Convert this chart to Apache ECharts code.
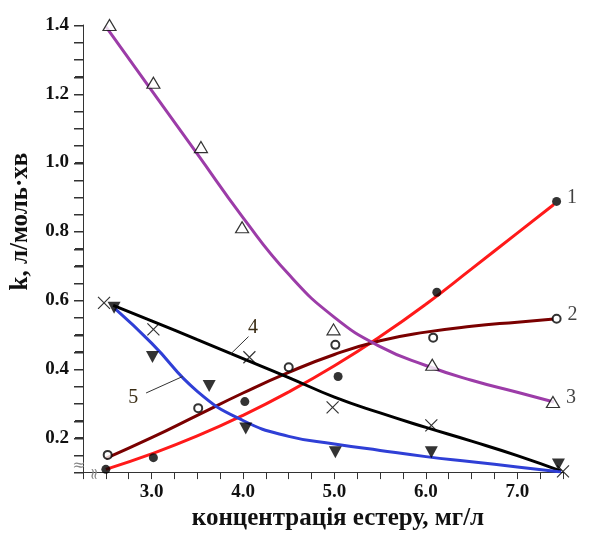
<!DOCTYPE html>
<html>
<head>
<meta charset="utf-8">
<script src="https://cdn.jsdelivr.net/npm/echarts@6/dist/echarts.min.js"></script>
<style>
  html, body { margin: 0; background: #fff; }
  #chart { width: 590px; height: 536px; }
</style>
</head>
<body>
<div id="chart"></div>
<script>
/* measured points (x: concentration, y: k) */
const x1 = [2.5, 3.02, 4.02, 5.04, 6.12, 7.43];
const y1 = [0.108, 0.142, 0.305, 0.378, 0.623, 0.887];
const x2 = [2.52, 3.51, 4.5, 5.01, 6.08, 7.43];
const y2 = [0.15, 0.286, 0.405, 0.47, 0.491, 0.546];
const x3 = [2.54, 3.02, 3.54, 3.99, 4.99, 6.07, 7.39];
const y3 = [1.4, 1.232, 1.045, 0.812, 0.515, 0.412, 0.304];
const x4 = [2.48, 3.02, 4.07, 4.98, 6.06, 7.5];
const y4 = [0.592, 0.515, 0.434, 0.288, 0.236, 0.102];
const x5 = [2.59, 3.01, 3.63, 4.03, 5.01, 6.06, 7.45];
const y5 = [0.578, 0.435, 0.35, 0.227, 0.158, 0.158, 0.122];

/* fitted curves */
const cx = [2.5, 3.0, 3.5, 4.0, 4.5, 5.0, 5.5, 6.0, 6.5, 7.0, 7.4];
const cy1 = [0.108, 0.153, 0.205, 0.265, 0.333, 0.409, 0.494, 0.588, 0.691, 0.795, 0.878];
const cy2 = [0.14, 0.2, 0.265, 0.33, 0.39, 0.442, 0.482, 0.507, 0.524, 0.536, 0.545];
const cy3 = [1.395, 1.21, 1.025, 0.84, 0.675, 0.55, 0.465, 0.41, 0.367, 0.332, 0.304];
const cx4 = [2.58, 3.0, 3.5, 4.0, 4.5, 5.0, 5.5, 6.0, 6.5, 7.0, 7.48];
const cy4 = [0.585, 0.54, 0.485, 0.43, 0.375, 0.318, 0.272, 0.23, 0.19, 0.148, 0.103];
const cx5 = [2.6, 3.0, 3.5, 4.0, 4.5, 5.0, 5.5, 6.0, 6.5, 7.0, 7.48];
const cy5 = [0.575, 0.475, 0.335, 0.25, 0.204, 0.182, 0.163, 0.145, 0.13, 0.115, 0.1];

/* tick labels and tick marks */
const xLabels = [3, 4, 5, 6, 7];
const yLabels = [0.2, 0.4, 0.6, 0.8, 1.0, 1.2, 1.4];
const yTicks = [0.1, 0.15, 0.2, 0.25, 0.3, 0.35, 0.4, 0.45, 0.5, 0.55, 0.6, 0.65, 0.7,
  0.75, 0.8, 0.85, 0.9, 0.95, 1.0, 1.05, 1.1, 1.15, 1.2, 1.25, 1.3, 1.35, 1.4];

const curveNames = ['1', '2', '3'];

const xMin = 2.25, xMax = 7.5;
const yMin = 0.1, yMax = 1.4;

function pairs(xs, ys) {
  return xs.map((x, i) => [x, ys[i]]);
}

function inList(list, v) {
  return list.some(t => Math.abs(t - v) < 1e-6);
}

const chart = echarts.init(document.getElementById('chart'));
const serif = 'Liberation Serif, DejaVu Serif, serif';
const axisColor = '#333';

function curve(data, color) {
  return {
    type: 'line',
    data: data,
    smooth: 0.5,
    showSymbol: false,
    silent: true,
    z: 2,
    lineStyle: { color: color, width: 3 }
  };
}

function points(data, symbol, style, size, rotate, tag) {
  return {
    type: 'scatter',
    data: data,
    symbol: symbol,
    symbolSize: size,
    symbolRotate: rotate || 0,
    clip: false,
    z: 5,
    itemStyle: style,
    label: {
      show: !!tag,
      position: 'right',
      distance: 6,
      offset: [0, -4],
      color: '#111',
      fontFamily: serif,
      fontSize: 20,
      formatter: p => (tag && p.dataIndex === data.length - 1) ? tag : ''
    }
  };
}

const option = {
  backgroundColor: '#fff',
  animation: false,
  grid: { left: 78, right: 27, top: 25, bottom: 59 },
  xAxis: {
    type: 'value',
    min: xMin,
    max: xMax,
    interval: 0.25,
    name: 'концентрація естеру, мг/л',
    nameLocation: 'middle',
    nameGap: 30,
    nameTextStyle: { fontFamily: serif, fontWeight: 'bold', fontSize: 25, color: '#111', padding: [0, 0, 0, 30] },
    splitLine: { show: false },
    axisLine: { show: true, lineStyle: { color: axisColor, width: 1 } },
    axisTick: { show: true, inside: false, length: 7, lineStyle: { color: axisColor, width: 1 } },
    minorTick: { show: true, splitNumber: 2, length: 3, lineStyle: { color: '#fff', opacity: 0 } },
    axisLabel: {
      fontFamily: serif, fontWeight: 'bold', fontSize: 19, color: '#111', margin: 10,
      formatter: v => inList(xLabels, v) ? v.toFixed(1) : ''
    }
  },
  yAxis: {
    type: 'value',
    min: yMin,
    max: yMax,
    interval: 0.05,
    name: 'k, л/моль·хв',
    nameLocation: 'middle',
    nameGap: 50,
    nameTextStyle: { fontFamily: serif, fontWeight: 'bold', fontSize: 25, color: '#111', padding: [0, 0, 0, 54] },
    splitLine: { show: false },
    axisLine: { show: true, lineStyle: { color: axisColor, width: 1 } },
    axisTick: { show: true, inside: false, length: 8, lineStyle: { color: axisColor, width: 1 } },
    axisLabel: {
      fontFamily: serif, fontWeight: 'bold', fontSize: 19, color: '#111', margin: 14,
      formatter: v => inList(yLabels, v) ? v.toFixed(1) : ''
    }
  },
  series: [
    curve(pairs(cx, cy1), '#ff1a1a'),
    curve(pairs(cx, cy2), '#7a0000'),
    curve(pairs(cx, cy3), '#9c3ca8'),
    curve(pairs(cx4, cy4), '#000'),
    curve(pairs(cx5, cy5), '#2f3fd6'),
    points(pairs(x1, y1), 'circle', { color: '#000' }, 9, 0, curveNames[0]),
    points(pairs(x2, y2), 'emptyCircle', { color: '#000', borderWidth: 1 }, 8, 0, curveNames[1]),
    points(pairs(x3, y3), 'triangle', { color: '#fff', borderColor: '#000', borderWidth: 1.2 }, [13, 11], 0, curveNames[2]),
    points(pairs(x4, y4), 'path://M0,0L10,10M10,0L0,10', { color: 'transparent', borderColor: '#000', borderWidth: 1.2 }, 12, 0),
    points(pairs(x5, y5), 'triangle', { color: '#000' }, [13, 12], 180)
  ]
};

chart.setOption(option);

const toPx = v => chart.convertToPixel({ gridIndex: 0 }, v);
const graphics = [];

/* tick marks on the left axis, placed through the y scale */
yTicks.forEach(v => {
  const p = toPx([xMin, v]);
  const y = Math.round(p[1]);
  graphics.push({
    type: 'rect',
    shape: { x: Math.round(p[0]) - 9, y: y, width: 9, height: 1.5 },
    style: { fill: axisColor },
    silent: true,
    z: 100
  });
});

/* leader labels for curves 4 and 5, placed in data coordinates */
const notes = [
  { text: '4', at: [4.11, 0.52], from: [4.06, 0.494], to: [3.86, 0.442] },
  { text: '5', at: [2.8, 0.317], from: [2.94, 0.33], to: [3.34, 0.378] }
];

notes.forEach(n => {
  const p = toPx(n.at);
  const a = toPx(n.from);
  const b = toPx(n.to);
  graphics.push({
    type: 'text',
    x: p[0], y: p[1],
    style: { text: n.text, font: '20px "Liberation Serif", serif', fill: '#3a2c14', align: 'center', verticalAlign: 'middle' },
    z: 100
  });
  graphics.push({
    type: 'line',
    shape: { x1: a[0], y1: a[1], x2: b[0], y2: b[1] },
    style: { stroke: '#333', lineWidth: 1 },
    z: 100
  });
});

/* axis-break marks near the origin */
const o = toPx([xMin, yMin]);
graphics.push({
  type: 'text', x: o[0] - 4, y: o[1] - 6,
  style: { text: '≈', font: '16px "DejaVu Serif", serif', fill: '#888', align: 'center', verticalAlign: 'middle' },
  silent: true,
  z: 100
});
graphics.push({
  type: 'text', x: o[0] + 12, y: o[1] + 2, rotation: Math.PI / 2,
  style: { text: '≈', font: '16px "DejaVu Serif", serif', fill: '#888', align: 'center', verticalAlign: 'middle' },
  silent: true,
  z: 100
});

chart.setOption({ graphic: graphics });
</script>
</body>
</html>
